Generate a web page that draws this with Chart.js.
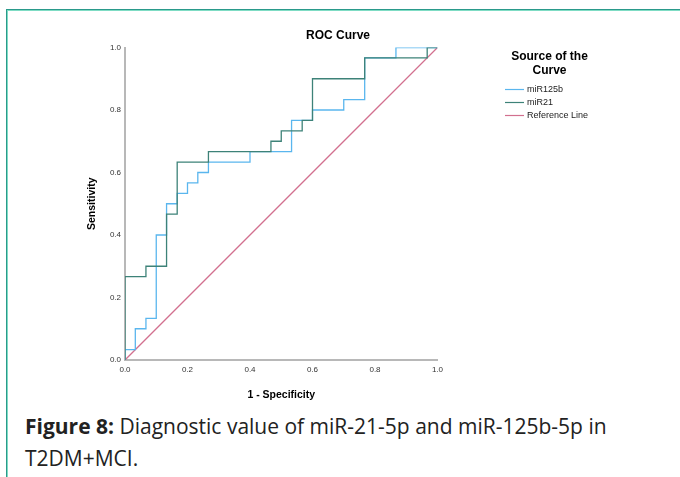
<!DOCTYPE html>
<html>
<head>
<meta charset="utf-8">
<script src="https://cdn.jsdelivr.net/npm/chart.js@4.4.1/dist/chart.umd.min.js"></script>
<style>
  html, body { margin: 0; padding: 0; background: #ffffff; }
  body { width: 680px; height: 477px; position: relative; overflow: hidden; }
  #frame { position: absolute; left: 6px; top: 9px; width: 700px; height: 500px;
           border-top: 1px solid #2a9a8b; border-left: 1px solid #2a9a8b; }
  #frame2 { position: absolute; left: 7px; top: 10px; width: 700px; height: 500px;
           border-top: 1px solid #7fdcc4; border-left: 1px solid #7fdcc4; }
  #wrap { position: absolute; left: 0; top: 0; width: 680px; height: 405px; }
  #caption { position: absolute; left: 25px; top: 410px; width: 650px;
             font-family: "Open Sans", "Noto Sans", sans-serif; font-size: 21px;
             line-height: 32px; color: #222; }
  #caption b { font-weight: 700; }
</style>
</head>
<body>
<div id="frame"></div>
<div id="frame2"></div>
<div id="wrap"><canvas id="c" width="680" height="405"></canvas></div>
<div id="caption"><b>Figure 8:</b> Diagnostic value of miR-21-5p and miR-125b-5p in<br>T2DM+MCI.</div>
<script>
// ---- data ----
const seriesNames = ["miR125b", "miR21", "Reference Line"];
const miR125bX = [0, 0, 0.033, 0.033, 0.067, 0.067, 0.1, 0.1, 0.133, 0.133, 0.167, 0.167, 0.2, 0.2, 0.233, 0.233, 0.267, 0.267, 0.4, 0.4, 0.533, 0.533, 0.6, 0.6, 0.7, 0.7, 0.767, 0.767, 0.867, 0.867, 1];
const miR125bY = [0, 0.033, 0.033, 0.1, 0.1, 0.133, 0.133, 0.4, 0.4, 0.5, 0.5, 0.533, 0.533, 0.567, 0.567, 0.6, 0.6, 0.633, 0.633, 0.667, 0.667, 0.767, 0.767, 0.8, 0.8, 0.833, 0.833, 0.967, 0.967, 1, 1];
const miR21X = [0, 0, 0.067, 0.067, 0.133, 0.133, 0.167, 0.167, 0.267, 0.267, 0.467, 0.467, 0.5, 0.5, 0.567, 0.567, 0.6, 0.6, 0.767, 0.767, 0.967, 0.967, 1];
const miR21Y = [0, 0.267, 0.267, 0.3, 0.3, 0.467, 0.467, 0.633, 0.633, 0.667, 0.667, 0.7, 0.7, 0.733, 0.733, 0.767, 0.767, 0.9, 0.9, 0.967, 0.967, 1, 1];
const refX = [0, 1];
const refY = [0, 1];
const tickValues = [0, 0.2, 0.4, 0.6, 0.8, 1.0];

const colors = ["#5ab6ee", "#3d8278", "#d2708f"];
const toPts = (xs, ys) => xs.map((x, i) => ({ x: x, y: ys[i] }));

const PLOT_LEFT = 125, PLOT_RIGHT = 437.5, PLOT_TOP = 47.5, PLOT_BOTTOM = 360;
const CH = 405;
const PADL = 86;

const overlay = {
  id: 'overlay',
  afterDraw(chart) {
    const ctx = chart.ctx;
    ctx.save();
    ctx.fillStyle = '#000';
    ctx.textAlign = 'center';
    ctx.textBaseline = 'middle';
    ctx.font = 'bold 12px "Liberation Sans", Arial, sans-serif';
    ctx.fillText('ROC Curve', 338, 36);
    // legend
    ctx.fillText('Source of the', 549.5, 57);
    ctx.fillText('Curve', 549.5, 70.5);
    ctx.font = '9px "Liberation Sans", Arial, sans-serif';
    ctx.textAlign = 'left';
    const ys = [89, 102, 115];
    chart.data.datasets.forEach((ds, i) => {
      ctx.strokeStyle = ds.borderColor;
      ctx.lineWidth = 1.2;
      ctx.beginPath();
      ctx.moveTo(505, ys[i] + 0.5);
      ctx.lineTo(524, ys[i] + 0.5);
      ctx.stroke();
      ctx.fillStyle = '#222';
      ctx.fillText(ds.label, 527, ys[i] + 0.5);
    });
    ctx.restore();
  }
};

new Chart(document.getElementById('c'), {
  type: 'scatter',
  data: {
    datasets: [
      { label: seriesNames[0], data: toPts(miR125bX, miR125bY), borderColor: colors[0], order: 1 },
      { label: seriesNames[1], data: toPts(miR21X, miR21Y), borderColor: colors[1], order: 0 },
      { label: seriesNames[2], data: toPts(refX, refY), borderColor: colors[2], order: 2 }
    ].map(d => Object.assign(d, { showLine: true, pointRadius: 0, borderWidth: 1.3, fill: false, tension: 0, backgroundColor: d.borderColor }))
  },
  options: {
    responsive: false,
    animation: false,
    events: [],
    layout: { padding: { left: PADL, right: 680 - PLOT_RIGHT, top: PLOT_TOP, bottom: 0 } },
    plugins: { legend: { display: false }, title: { display: false }, tooltip: { enabled: false } },
    scales: {
      x: {
        type: 'linear', min: 0, max: 1,
        afterBuildTicks: s => { s.ticks = tickValues.map(v => ({ value: v })); },
        afterFit: s => { s.height = CH - PLOT_BOTTOM; },
        grid: { display: false, drawTicks: false },
        border: { color: '#b8b8b8', width: 2 },
        ticks: { padding: 5, maxRotation: 0, color: '#333', font: { family: '"Liberation Sans", Arial, sans-serif', size: 8 }, callback: v => Number(v).toFixed(1) },
        title: { display: true, text: '1 - Specificity', color: '#000', font: { family: '"Liberation Sans", Arial, sans-serif', size: 10.5, weight: 'bold' }, padding: { top: 12 } }
      },
      y: {
        type: 'linear', min: 0, max: 1,
        afterBuildTicks: s => { s.ticks = tickValues.map(v => ({ value: v })); },
        afterFit: s => { s.width = PLOT_LEFT - PADL; },
        grid: { display: false, drawTicks: false },
        border: { color: '#b8b8b8', width: 2 },
        ticks: { padding: 4, color: '#333', font: { family: '"Liberation Sans", Arial, sans-serif', size: 8 }, callback: v => Number(v).toFixed(1) },
        title: { display: true, text: 'Sensitivity', color: '#000', font: { family: '"Liberation Sans", Arial, sans-serif', size: 10.5, weight: 'bold' }, padding: { top: 0, bottom: 0 } }
      }
    }
  },
  plugins: [overlay]
});
</script>
</body>
</html>
